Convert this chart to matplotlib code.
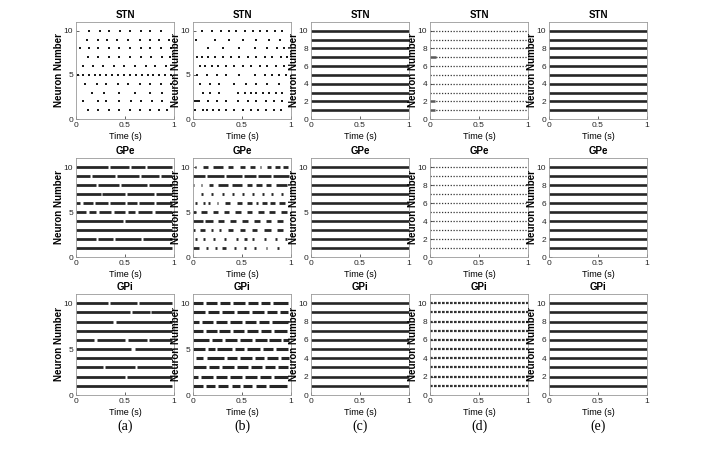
import matplotlib.pyplot as plt

plt.rcParams['font.family'] = ['Liberation Sans', 'DejaVu Sans']

neurons = list(range(1, 11))

# (a) STN spike times, neuron 1..10
a_stn = [
    [0.12, 0.22, 0.34, 0.44, 0.55, 0.65, 0.75, 0.85, 0.93],
    [0.07, 0.22, 0.31, 0.44, 0.56, 0.66, 0.78, 0.88],
    [0.16, 0.29, 0.44, 0.60, 0.75, 0.88],
    [0.09, 0.21, 0.31, 0.43, 0.53, 0.65, 0.75, 0.87, 0.97],
    [0.02, 0.07, 0.13, 0.19, 0.24, 0.31, 0.37, 0.43, 0.49, 0.55, 0.61, 0.67, 0.73, 0.79, 0.85, 0.91, 0.97],
    [0.07, 0.17, 0.28, 0.39, 0.49, 0.60, 0.71, 0.81, 0.92],
    [0.12, 0.22, 0.34, 0.44, 0.55, 0.66, 0.77, 0.88, 0.96],
    [0.04, 0.13, 0.22, 0.34, 0.44, 0.55, 0.66, 0.76, 0.87, 0.97],
    [0.11, 0.22, 0.32, 0.42, 0.53, 0.65, 0.75, 0.85, 0.95],
    [0.13, 0.24, 0.34, 0.445, 0.555, 0.66, 0.76, 0.87],
]

# (b) STN spike times
b_stn = [
    [0.02, 0.10, 0.14, 0.20, 0.27, 0.34, 0.42, 0.51, 0.59, 0.66, 0.74, 0.83, 0.90],
    [0.02, 0.035, 0.05, 0.065, 0.15, 0.24, 0.34, 0.46, 0.56, 0.64, 0.74, 0.83, 0.91],
    [0.10, 0.17, 0.27, 0.46, 0.53, 0.59, 0.64, 0.71, 0.78, 0.85, 0.91],
    [0.07, 0.17, 0.27, 0.42, 0.54, 0.64, 0.76, 0.88],
    [0.04, 0.14, 0.24, 0.34, 0.47, 0.63, 0.73, 0.81, 0.88, 0.95],
    [0.07, 0.12, 0.19, 0.26, 0.34, 0.42, 0.51, 0.59, 0.68, 0.76, 0.85, 0.93],
    [0.04, 0.09, 0.15, 0.22, 0.31, 0.39, 0.47, 0.56, 0.64, 0.73, 0.81, 0.90, 0.96],
    [0.15, 0.31, 0.47, 0.63, 0.76, 0.86, 0.93],
    [0.03, 0.22, 0.37, 0.51, 0.64, 0.78, 0.89],
    [0.09, 0.19, 0.29, 0.37, 0.44, 0.53, 0.61, 0.68, 0.76, 0.84, 0.91],
]

# burst intervals (start, end) in s, neuron 1..10
a_gpe = [
    [(0.0, 0.98)],
    [(0.0, 0.20), (0.22, 0.38), (0.40, 0.66), (0.68, 0.98)],
    [(0.0, 0.98)],
    [(0.0, 0.48), (0.50, 0.98)],
    [(0.0, 0.10), (0.13, 0.20), (0.23, 0.36), (0.39, 0.50), (0.53, 0.60), (0.63, 0.78), (0.81, 0.98)],
    [(0.0, 0.04), (0.07, 0.17), (0.19, 0.33), (0.35, 0.50), (0.52, 0.62), (0.64, 0.80), (0.82, 0.98)],
    [(0.0, 0.25), (0.27, 0.50), (0.52, 0.80), (0.82, 0.98)],
    [(0.0, 0.20), (0.22, 0.44), (0.46, 0.72), (0.74, 0.98)],
    [(0.0, 0.14), (0.16, 0.40), (0.42, 0.64), (0.66, 0.85), (0.87, 0.98)],
    [(0.0, 0.33), (0.35, 0.54), (0.56, 0.70), (0.72, 0.98)],
]

b_gpe = [
    [(0.0, 0.06), (0.13, 0.15), (0.22, 0.24), (0.30, 0.34), (0.42, 0.44), (0.52, 0.54), (0.62, 0.64), (0.74, 0.76), (0.86, 0.88)],
    [(0.02, 0.04), (0.10, 0.12), (0.20, 0.22), (0.32, 0.34), (0.44, 0.46), (0.52, 0.55), (0.60, 0.62), (0.72, 0.74), (0.84, 0.86), (0.94, 0.96)],
    [(0.0, 0.02), (0.07, 0.12), (0.18, 0.20), (0.27, 0.29), (0.36, 0.41), (0.48, 0.53), (0.60, 0.65), (0.72, 0.80), (0.86, 0.92)],
    [(0.0, 0.10), (0.12, 0.20), (0.26, 0.32), (0.38, 0.44), (0.50, 0.56), (0.62, 0.68), (0.74, 0.80), (0.86, 0.92)],
    [(0.0, 0.03), (0.08, 0.14), (0.20, 0.26), (0.32, 0.37), (0.43, 0.49), (0.55, 0.60), (0.66, 0.72), (0.78, 0.84), (0.90, 0.96)],
    [(0.02, 0.04), (0.10, 0.12), (0.15, 0.17), (0.24, 0.26), (0.33, 0.38), (0.45, 0.50), (0.55, 0.60), (0.64, 0.66), (0.70, 0.75), (0.79, 0.84), (0.88, 0.94)],
    [(0.08, 0.10), (0.18, 0.20), (0.30, 0.32), (0.40, 0.42), (0.50, 0.52), (0.60, 0.62), (0.70, 0.72), (0.80, 0.82), (0.90, 0.92)],
    [(0.0, 0.01), (0.08, 0.09), (0.16, 0.20), (0.26, 0.36), (0.40, 0.50), (0.55, 0.60), (0.64, 0.70), (0.74, 0.80), (0.85, 0.96)],
    [(0.0, 0.12), (0.14, 0.32), (0.34, 0.50), (0.52, 0.64), (0.66, 0.80), (0.82, 0.98)],
    [(0.02, 0.03), (0.10, 0.15), (0.20, 0.31), (0.36, 0.41), (0.48, 0.53), (0.58, 0.63), (0.68, 0.69), (0.75, 0.80), (0.84, 0.89), (0.92, 0.97)],
]

a_gpi = [
    [(0.0, 0.98)],
    [(0.0, 0.50), (0.52, 0.98)],
    [(0.0, 0.28), (0.30, 0.60), (0.62, 0.98)],
    [(0.0, 0.98)],
    [(0.0, 0.56), (0.60, 0.98)],
    [(0.0, 0.18), (0.21, 0.50), (0.53, 0.72), (0.74, 0.98)],
    [(0.0, 0.98)],
    [(0.0, 0.38), (0.41, 0.98)],
    [(0.0, 0.55), (0.57, 0.75), (0.77, 0.98)],
    [(0.0, 0.33), (0.35, 0.62), (0.64, 0.98)],
]

b_gpi = [
    [(0.0, 0.10), (0.13, 0.22), (0.26, 0.36), (0.40, 0.48), (0.51, 0.60), (0.64, 0.74), (0.78, 0.96)],
    [(0.0, 0.05), (0.08, 0.20), (0.23, 0.35), (0.38, 0.50), (0.53, 0.65), (0.68, 0.80), (0.83, 0.97)],
    [(0.0, 0.13), (0.16, 0.27), (0.30, 0.42), (0.45, 0.56), (0.59, 0.70), (0.73, 0.84), (0.87, 0.97)],
    [(0.03, 0.10), (0.14, 0.32), (0.35, 0.45), (0.48, 0.60), (0.63, 0.72), (0.75, 0.87), (0.90, 0.98)],
    [(0.0, 0.12), (0.15, 0.22), (0.25, 0.40), (0.43, 0.52), (0.55, 0.68), (0.71, 0.82), (0.85, 0.97)],
    [(0.0, 0.16), (0.19, 0.30), (0.33, 0.45), (0.48, 0.60), (0.63, 0.75), (0.78, 0.90), (0.92, 0.98)],
    [(0.0, 0.10), (0.13, 0.24), (0.27, 0.38), (0.41, 0.52), (0.55, 0.66), (0.69, 0.80), (0.83, 0.96)],
    [(0.0, 0.06), (0.09, 0.20), (0.23, 0.35), (0.38, 0.50), (0.53, 0.64), (0.67, 0.78), (0.81, 0.97)],
    [(0.0, 0.12), (0.15, 0.27), (0.30, 0.42), (0.45, 0.57), (0.60, 0.72), (0.75, 0.86), (0.89, 0.97)],
    [(0.0, 0.10), (0.13, 0.25), (0.28, 0.38), (0.41, 0.53), (0.56, 0.66), (0.69, 0.79), (0.82, 0.97)],
]

# (c), (e): tonic firing over whole window; (d): regular sparse firing
tonic = [[(0.0, 1.0)] for n in neurons]
d_stn_burst = [[(0.0, 0.05)], [(0.0, 0.05)], [], [], [], [], [(0.0, 0.06)], [], [], []]

titles = ['STN', 'GPe', 'GPi']
panel_labels = ['(a)', '(b)', '(c)', '(d)', '(e)']

# ----------------------------------------------------------------

W, H = 703, 449
fig = plt.figure(figsize=(W / 100, H / 100), dpi=100)

col_left = [76, 193, 311, 430, 549]
col_w = 98
row_top = [22, 158, 294]
row_bot = [119, 257, 395]

def make_ax(r, c):
    ax = fig.add_axes([col_left[c] / W, 1 - row_bot[r] / H, col_w / W, (row_bot[r] - row_top[r]) / H])
    ax.set_xlim(0, 1)
    ax.set_ylim(0, 11)
    ax.set_xticks([0, 0.5, 1])
    ax.set_xticklabels(['0', '0.5', '1'])
    if c < 2 or (c == 2 and r == 1):
        ax.set_yticks([0, 5, 10])
    else:
        ax.set_yticks([0, 2, 4, 6, 8, 10])
    ax.tick_params(direction='in', length=2, width=0.5, labelsize=6, pad=2, colors='0.15')
    for s in ax.spines.values():
        s.set_color('0.6')
        s.set_linewidth(0.6)
    ax.set_title(titles[r], fontsize=7, fontweight='bold', pad=3)
    ax.set_xlabel('Time (s)', fontsize=6.5, labelpad=2)
    ax.set_ylabel('Neuron Number', fontsize=7, fontweight='bold', labelpad=0)
    return ax

def draw_spikes(ax, spikes):
    for n, t in zip(neurons, spikes):
        ax.plot(t, [n] * len(t), 's', ms=1.7, color='0.1', mew=0)

def draw_bursts(ax, bursts, lw=2.0, ls='-', color='0.15'):
    for n, segs in zip(neurons, bursts):
        for s, e in segs:
            ax.hlines(n, s, e, lw=lw, color=color, linestyles=ls)

for r in range(3):
    for c in range(5):
        ax = make_ax(r, c)
        if c == 0:
            if r == 0:
                draw_spikes(ax, a_stn)
            elif r == 1:
                draw_bursts(ax, a_gpe, lw=2.0)
            else:
                draw_bursts(ax, a_gpi, lw=2.0)
        elif c == 1:
            if r == 0:
                draw_spikes(ax, b_stn)
            elif r == 1:
                draw_bursts(ax, b_gpe, lw=2.0)
            else:
                draw_bursts(ax, b_gpi, lw=2.2)
        elif c == 3:
            if r == 0:
                draw_bursts(ax, tonic, lw=0.9, ls=(0, (1, 1.3)), color='0.2')
                draw_bursts(ax, d_stn_burst, lw=1.8, color='0.35')
            elif r == 1:
                draw_bursts(ax, tonic, lw=0.9, ls=(0, (1, 1.3)), color='0.2')
            else:
                draw_bursts(ax, tonic, lw=1.6, ls=(0, (1.2, 0.6)), color='0.2')
        else:
            draw_bursts(ax, tonic, lw=1.9, color='0.15')

for c in range(5):
    x = (col_left[c] + col_w / 2) / W
    fig.text(x, 1 - 426 / H, panel_labels[c], ha='center', va='center',
             fontsize=10, family=['Liberation Serif', 'DejaVu Serif'])

fig.savefig('out.png', dpi=100, facecolor='white')
